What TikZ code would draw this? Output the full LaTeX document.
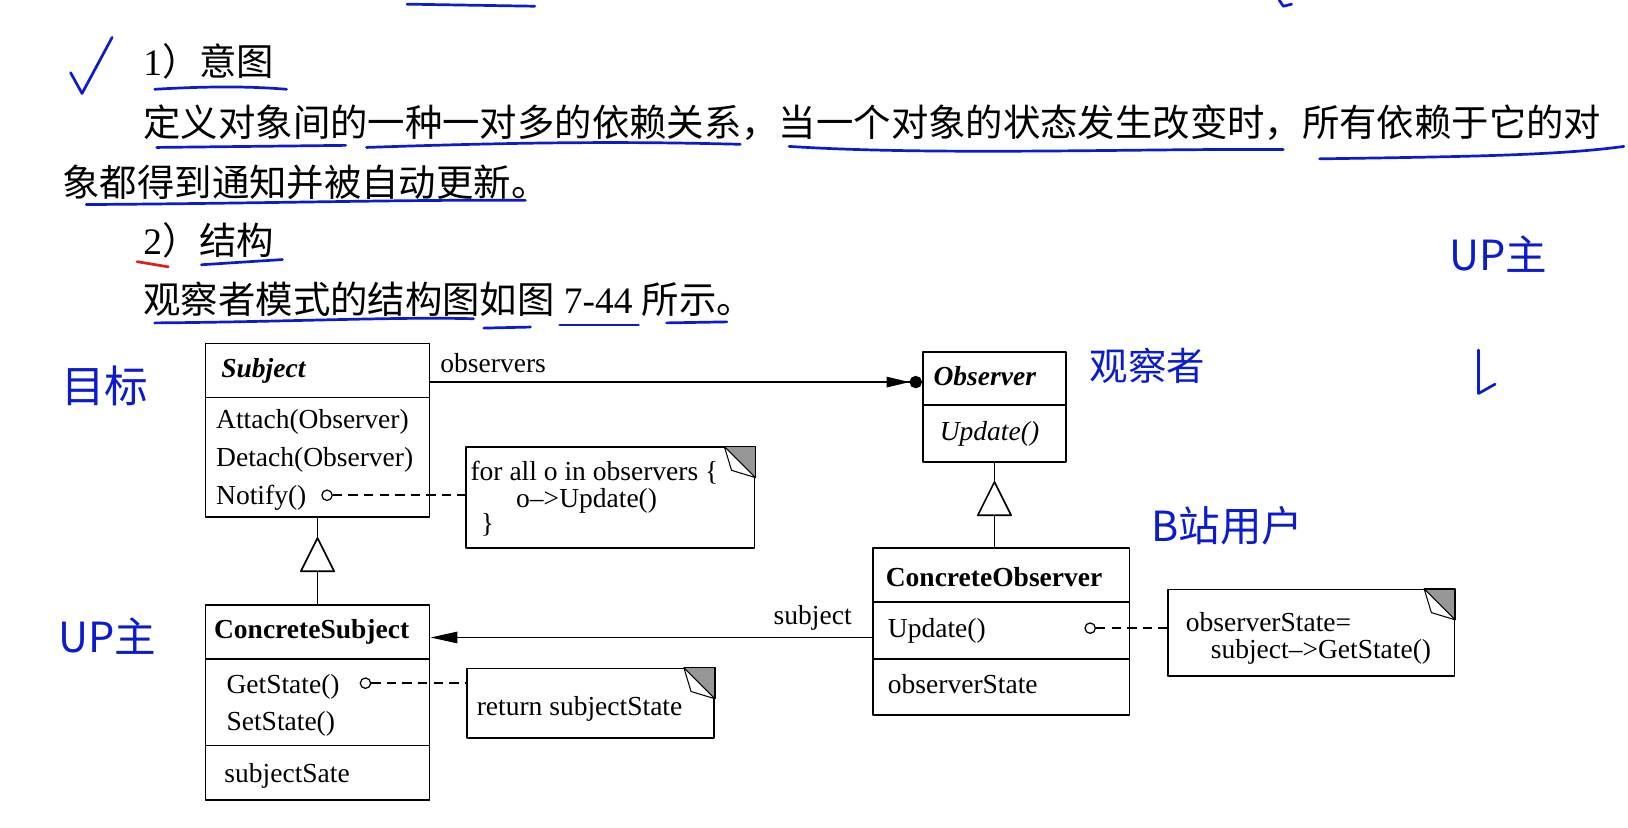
\documentclass[tikz,border=0pt]{standalone}
\usepackage{fontspec}
\setmainfont{Liberation Serif}
\newfontfamily\cjk{Noto Sans CJK SC}
\usetikzlibrary{arrows.meta,shapes.geometric,calc}

\definecolor{penblue}{RGB}{12,28,205}
\definecolor{penred}{RGB}{225,30,30}
\definecolor{foldgray}{RGB}{150,150,150}

% folded corner of a note box
\newcommand\dogear[1]{%
  \fill[foldgray] ([xshift=-30pt]#1.north east) -- (#1.north east) -- ([yshift=-30pt]#1.north east) -- cycle;
  \filldraw[fill=white, line width=1pt] ([xshift=-30pt]#1.north east)
    .. controls ([xshift=-27pt,yshift=-12pt]#1.north east) .. ([xshift=-23pt,yshift=-23pt]#1.north east)
    -- ([yshift=-30pt]#1.north east) -- cycle;
  \draw[line width=1.6pt] ([xshift=-30pt]#1.north east) -- (#1.north east) -- ([yshift=-30pt]#1.north east);
}

\begin{document}
\begin{tikzpicture}[x=1pt, y=-1pt, line join=round,
  body/.style={anchor=base west, inner sep=0pt, font=\fontsize{36}{40}\selectfont},
  umltxt/.style={anchor=base west, inner sep=0pt, font=\fontsize{26.5}{30}\selectfont},
  cls/.style={draw, line width=1.6pt, anchor=north west, inner sep=0pt, fill=white},
  notebox/.style={cls},
  sepline/.style={line width=1.6pt},
  assoc/.style={line width=1.6pt},
  gen/.style={draw, fill=white, line width=1.6pt, isosceles triangle,
              isosceles triangle stretches, shape border rotate=90,
              minimum width=32pt, minimum height=32pt, inner sep=0pt},
  hook/.style={draw, circle, fill=white, line width=1.2pt, minimum size=10pt, inner sep=0pt},
  link/.style={line width=1.5pt, dash pattern=on 9pt off 6pt},
  pen/.style={draw=penblue, line width=2.6pt, line cap=round},
  scrawl/.style={text=penblue, inner sep=0pt, font=\cjk\fontsize{40}{44}\selectfont}
]
\useasboundingbox[fill=white] (0,0) rectangle (1568,797);

% ================= printed text =================
\node[body] (h1) at (138,73) {1{\cjk ）意图}};
\node[body] (p1) at (138,131) {\cjk 定义对象间的一种一对多的依赖关系，当一个对象的状态发生改变时，所有依赖于它的对};
\node[body] (p2) at (60,189) {\cjk 象都得到通知并被自动更新。};
\node[body] (h2) at (138,245) {2{\cjk ）结构}};
\node[body] (p3) at (138,302) {{\cjk 观察者模式的结构图如图} 7-44 {\cjk 所示。}};

% ================= classes =================
\node[cls, minimum width=216pt, minimum height=167pt] (subj) at (197,330) {};
\draw[sepline] ([yshift=-53pt]subj.north west) -- ([yshift=-53pt]subj.north east);
\node[umltxt, font=\fontsize{26.5}{30}\selectfont\bfseries\itshape] (subjname) at (213,364) {Subject};
\node[umltxt] (att) at (208,413) {Attach(Observer)};
\node[umltxt] (det) at (208,449) {Detach(Observer)};
\node[umltxt] (ntfy) at (208,486) {Notify()};

\node[cls, minimum width=138pt, minimum height=106pt] (obs) at (888,338) {};
\draw[sepline] ([yshift=-52pt]obs.north west) -- ([yshift=-52pt]obs.north east);
\node[umltxt, font=\fontsize{26.5}{30}\selectfont\bfseries\itshape] (obsname) at (899,371) {Observer};
\node[umltxt, font=\fontsize{26.5}{30}\selectfont\itshape] (obsupd) at (905,424) {Update()};

\node[cls, minimum width=216pt, minimum height=188pt] (csubj) at (197,582) {};
\draw[sepline] ([yshift=-53pt]csubj.north west) -- ([yshift=-53pt]csubj.north east);
\draw[sepline] ([yshift=-136pt]csubj.north west) -- ([yshift=-136pt]csubj.north east);
\node[umltxt, font=\fontsize{26.5}{30}\selectfont\bfseries] (csname) at (206,615) {ConcreteSubject};
\node[umltxt] (gets) at (218,668) {GetState()};
\node[umltxt] (sets) at (218,704) {SetState()};
\node[umltxt] (sstate) at (216,754) {subjectSate};

\node[cls, minimum width=247pt, minimum height=161pt] (cobs) at (840,527) {};
\draw[sepline] ([yshift=-53pt]cobs.north west) -- ([yshift=-53pt]cobs.north east);
\draw[sepline] ([yshift=-108pt]cobs.north west) -- ([yshift=-108pt]cobs.north east);
\node[umltxt, font=\fontsize{26.5}{30}\selectfont\bfseries] (coname) at (853,565) {ConcreteObserver};
\node[umltxt] (coupd) at (855,614) {Update()};
\node[umltxt] (ostate) at (855,668) {observerState};

% ================= notes =================
\node[notebox, minimum width=278pt, minimum height=97pt] (note1) at (448,430) {};
\dogear{note1}
\node[umltxt] (n1a) at (453,463) {for all o in observers \{};
\node[umltxt] (n1b) at (497,489) {o\textendash{}>Update()};
\node[umltxt] (n1c) at (463,513) {\}};

\node[notebox, minimum width=238pt, minimum height=67pt] (note2) at (449,643) {};
\dogear{note2}
\node[umltxt] (n2a) at (459,689) {return subjectState};

\node[notebox, minimum width=276pt, minimum height=83pt] (note3) at (1124,567) {};
\dogear{note3}
\node[umltxt] (n3a) at (1142,608) {observerState=};
\node[umltxt] (n3b) at (1166,634) {subject\textendash{}>GetState()};

% ================= connectors =================
\draw[assoc, -{Triangle[length=22pt,width=10pt] Circle[length=12pt]}]
  ([yshift=-38pt]subj.north east) -- ([yshift=-30pt]obs.north west);
\node[umltxt] (lobs) at (424,359) {observers};

\draw[assoc, -{Triangle[length=26pt,width=11pt]}]
  ([yshift=-87pt]cobs.north west) -- ([yshift=-32pt]csubj.north east);
\node[umltxt] (lsubj) at (745,601) {subject};

\draw[assoc] (csubj.north) -- node[gen] (gen1) {} (subj.south);
\draw[assoc] (cobs.north -| obs.south) -- node[gen] (gen2) {} (obs.south);

\node[hook] (ntf) at (315,477) {};
\draw[link] (ntf) -- (ntf -| note1.west);
\node[hook] (gst) at (352,658) {};
\draw[link] (gst) -- (gst -| note2.west);
\node[hook] (upd) at (1050,605) {};
\draw[link] (upd) -- (upd -| note3.west);

% ================= pen marks =================
\draw[pen] (68,70) -- (79,90) -- (108,36);
\draw[pen] (392,4) -- (515,6);
\draw[pen] (1232,0) -- (1236,6) -- (1244,4);
\draw[pen] (149,86) .. controls (200,83) and (240,83) .. (276,86);
\draw[pen] (151,142) -- (333,140);
\draw[pen] (353,142) .. controls (500,137) and (600,136) .. (713,139);
\draw[pen] (760,141) .. controls (900,150) and (1100,143) .. (1236,144);
\draw[pen] (1271,153) .. controls (1400,151) and (1500,150) .. (1564,141);
\draw[pen] (83,197) .. controls (250,196) and (400,192) .. (506,193);
\draw[pen, draw=penred] (132,252) -- (162,257);
\draw[pen] (194,255) -- (272,250);
\draw[pen] (149,311) .. controls (280,310) and (380,305) .. (456,307);
\draw[pen] (466,316) -- (511,315);
\draw[pen] (539,313) -- (615,313);
\draw[pen] (642,311) -- (700,310);
\draw[pen] (1424,337) -- (1424,379) -- (1440,370);

\node[scrawl, font=\cjk\fontsize{42}{46}\selectfont] (mubiao) at (101,372) {目标};
\node[scrawl, font=\cjk\fontsize{37}{40}\selectfont] (guancha) at (1105,352) {观察者};
\node[scrawl] (bzhan) at (1182,506) {B站用户};
\node[scrawl] (upleft) at (103,613) {UP主};
\node[scrawl] (upright) at (1443,245) {UP主};

\end{tikzpicture}
\end{document}
